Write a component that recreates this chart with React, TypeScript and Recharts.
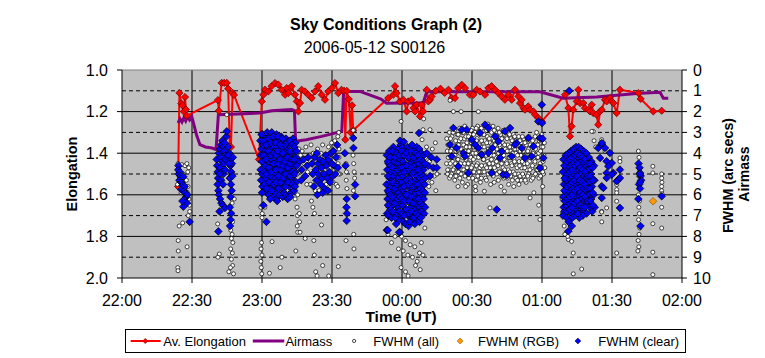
import React from "react";
import { CartesianGrid, ComposedChart, Line, Scatter, XAxis, YAxis } from "recharts";

type Pt = [number, number];

// minutes after 22:00 UT
const timeTicks = [0, 30, 60, 90, 120, 150, 180, 210, 240];
const timeLabels = ["22:00", "22:30", "23:00", "23:30", "00:00", "00:30", "01:00", "01:30", "02:00"];
const elongTicks = [1.0, 1.2, 1.4, 1.6, 1.8, 2.0];
const fwhmTicks = [0, 1, 2, 3, 4, 5, 6, 7, 8, 9, 10];
const solidRows = [1.2, 1.4, 1.6, 1.8];
const dashedRows = [1.1, 1.3, 1.5, 1.7, 1.9];
const gridCols = [30, 60, 90, 120, 150, 180, 210];

const elongation: Pt[] = [
  [24.0, 1.56], [24.6, 1.11], [25.4, 1.16], [25.9, 1.17], [26.5, 1.2], [27.0, 1.13], [27.4, 1.19], [27.8, 1.22],
  [41.1, 1.145], [41.5, 1.196], [42.7, 1.062], [43.8, 1.062], [44.9, 1.062], [45.5, 1.09], [46.2, 1.37], [46.7, 1.37],
  [47.4, 1.11], [48.0, 1.12], [58.7, 1.43],
  [59.9, 1.151], [60.6, 1.119], [61.3, 1.095], [62.7, 1.103], [64.1, 1.078], [65.6, 1.063], [67.0, 1.07], [68.4, 1.095],
  [69.9, 1.119], [70.6, 1.087], [71.3, 1.111], [72.7, 1.078], [74.1, 1.119], [74.9, 1.151], [75.6, 1.199], [76.3, 1.159],
  [77.0, 1.095], [78.4, 1.103], [79.8, 1.119], [81.3, 1.135], [82.7, 1.103], [84.1, 1.078], [85.6, 1.119], [87.0, 1.143],
  [88.4, 1.103], [89.9, 1.087], [91.3, 1.063], [92.7, 1.111], [94.1, 1.095],
  [95.2, 1.1], [95.7, 1.335], [96.3, 1.1], [97.2, 1.14], [98.0, 1.3], [98.6, 1.17], [99.1, 1.29],
  [114.1, 1.135], [116.3, 1.119], [117.0, 1.078], [117.7, 1.111], [119.1, 1.151], [120.6, 1.143], [122.0, 1.199],
  [122.7, 1.151], [124.1, 1.143], [124.9, 1.183], [125.6, 1.199], [126.3, 1.167], [127.7, 1.223], [128.4, 1.167],
  [129.1, 1.199], [130.6, 1.095], [131.3, 1.151], [132.0, 1.143], [132.7, 1.127], [134.5, 1.1], [136.5, 1.09], [138.3, 1.11],
  [139.9, 1.095], [141.3, 1.135], [142.7, 1.135], [144.1, 1.087], [145.6, 1.071], [147.0, 1.087], [149.1, 1.119],
  [150.6, 1.119], [152.0, 1.095], [153.4, 1.103], [155.6, 1.119], [157.0, 1.087], [158.4, 1.078], [159.9, 1.095],
  [161.3, 1.111], [162.7, 1.127], [164.1, 1.143], [165.6, 1.119], [167.0, 1.143], [168.4, 1.095], [169.9, 1.127],
  [170.6, 1.159], [171.3, 1.143], [172.0, 1.183], [172.7, 1.191], [174.1, 1.175], [174.9, 1.191], [176.3, 1.199],
  [177.0, 1.215], [178.4, 1.231], [179.9, 1.247],
  [189.9, 1.119], [191.3, 1.183], [192.0, 1.319], [192.7, 1.271], [193.4, 1.191], [194.9, 1.151], [195.6, 1.095],
  [196.3, 1.159], [197.7, 1.159], [198.4, 1.183], [199.9, 1.191], [200.6, 1.199], [201.3, 1.167], [202.0, 1.207],
  [203.4, 1.215], [204.1, 1.263], [204.9, 1.199], [205.6, 1.191], [207.0, 1.143], [207.7, 1.151], [209.1, 1.135],
  [209.9, 1.151], [210.6, 1.159], [212.0, 1.207], [213.4, 1.095],
  [221.3, 1.111], [222.3, 1.139], [227.7, 1.199], [231.3, 1.196],
];

const airmass: Pt[] = [
  [24.0, 2.55], [24.9, 2.35], [25.7, 2.5], [26.5, 2.3], [27.3, 2.45], [28.1, 2.25], [29.0, 2.4], [29.9, 2.23],
  [31.9, 3.1], [33.4, 3.59], [35.8, 3.7], [38.6, 3.75], [40.3, 3.83], [41.3, 2.15], [59.1, 2.07], [64.2, 1.96],
  [72.7, 1.9], [73.9, 1.95], [74.4, 3.43], [79.0, 3.35], [85.6, 3.19], [94.2, 2.95], [95.0, 1.03], [102.0, 1.03],
  [111.0, 1.4], [113.4, 1.6], [129.1, 1.57], [130.6, 1.05], [179.1, 1.05], [189.1, 1.36], [203.4, 1.3],
  [220.6, 1.13], [230.6, 1.07], [232.0, 1.36], [234.1, 1.36],
];

const fwhmAll: Pt[] = [
  // 22:24 - 22:30
  [24.0, 4.5], [25.6, 4.55], [27.0, 4.6], [27.8, 4.5], [28.6, 4.7], [26.2, 5.0], [27.6, 5.3], [28.3, 5.6], [28.0, 5.9],
  [28.7, 6.2], [28.9, 6.5], [29.0, 6.8], [28.4, 7.0], [26.0, 7.35], [24.5, 7.5], [24.1, 8.2], [24.1, 8.7], [27.9, 8.5],
  [23.9, 9.5], [24.0, 9.65], [25.3, 5.9], [23.8, 5.5], [28.2, 4.9],
  // 22:40 - 22:48
  [46.8, 6.0], [47.2, 6.4], [47.0, 6.9], [47.4, 7.3], [46.6, 7.7], [47.2, 7.9], [46.9, 8.1], [47.5, 8.3], [46.6, 8.6],
  [47.3, 8.8], [46.9, 9.1], [47.4, 9.4], [46.5, 9.5], [41.0, 7.4], [41.7, 8.85], [41.1, 9.0], [44.9, 2.15], [48.1, 6.2],
  [47.8, 9.8], [45.8, 9.7],
  // 23:00 - 23:16
  [59.8, 8.3], [59.6, 8.6], [60.0, 8.9], [59.5, 9.2], [59.7, 9.5], [59.9, 9.8], [60.1, 6.9], [64.3, 8.25], [63.2, 9.77],
  [67.8, 9.5], [68.5, 9.0], [74.0, 5.3], [74.6, 5.6], [75.0, 4.6], [75.2, 5.0], [75.3, 6.0], [75.0, 6.6], [75.2, 7.0],
  [75.1, 7.5], [75.3, 7.8], [74.2, 6.2], [61.2, 6.6], [59.5, 6.6], [60.0, 7.1], [74.5, 8.7],
  // 23:16 - 23:40
  [75.8, 3.8], [76.5, 4.1], [77.2, 3.9], [78.0, 4.5], [78.8, 3.7], [79.5, 5.0], [80.3, 4.1], [80.8, 5.5], [81.0, 3.6],
  [82.0, 4.0], [82.8, 5.8], [83.8, 3.8], [84.5, 5.8], [85.3, 4.0], [86.0, 3.6], [86.8, 4.2], [87.5, 5.5], [88.5, 3.7],
  [89.0, 5.8], [89.8, 3.5], [90.5, 5.4], [91.2, 3.4], [91.8, 5.5], [92.5, 3.2], [93.0, 4.2], [93.4, 5.0], [92.9, 3.0],
  [81.2, 6.3], [81.8, 6.6], [82.5, 6.9], [85.5, 7.45], [82.2, 8.2], [82.4, 8.9], [83.0, 9.7], [83.6, 9.9], [86.0, 9.4],
  [88.6, 9.9], [92.7, 9.45], [76.0, 6.9], [76.1, 7.3], [76.3, 7.8], [78.5, 8.1], [79.0, 4.4], [79.5, 4.9], [79.2, 5.5],
  [92.6, 4.5], [92.8, 5.0], [92.4, 5.6], [93.0, 3.8], [96.0, 4.5], [96.2, 4.9], [96.1, 5.3], [96.4, 5.7], [96.0, 8.2],
  [99.1, 2.9], [99.0, 4.1], [99.3, 4.5], [99.5, 4.9], [99.7, 5.2], [99.2, 5.8], [99.3, 7.9], [99.4, 8.6],
  // 23:54 - 00:15
  [114.0, 7.9], [115.5, 8.3], [117.0, 8.0], [118.5, 8.6], [119.8, 8.0], [120.5, 8.7], [121.5, 8.2], [122.5, 8.9],
  [123.5, 8.4], [124.5, 9.0], [125.5, 8.5], [126.5, 9.2], [127.5, 8.8], [128.3, 8.3], [129.0, 8.9], [119.6, 9.5],
  [121.5, 9.7], [122.6, 9.9], [125.8, 9.4], [127.8, 9.6], [113.2, 7.2], [129.8, 7.6],
  [119.6, 2.47], [129.3, 2.35], [129.0, 2.87], [132.0, 2.87], [128.6, 3.35], [130.5, 3.7],
  [130.0, 4.2], [131.0, 4.0], [131.8, 4.4], [132.8, 5.4], [133.8, 5.1], [134.5, 5.8], [131.5, 5.6], [130.5, 5.3],
  [133.0, 3.8], [134.3, 3.5], [135.0, 5.0],
  // 00:19 - 01:01
  [139.2, 3.3], [139.4, 3.9], [139.1, 4.5], [139.5, 5.0], [140.3, 3.0], [140.1, 3.6], [140.5, 4.2], [140.2, 4.8],
  [140.4, 5.2], [141.4, 3.2], [141.2, 3.8], [141.6, 4.4], [141.3, 5.0], [142.5, 2.9], [142.3, 3.5], [142.7, 4.1],
  [142.4, 4.7], [142.6, 5.3], [143.6, 3.1], [143.4, 3.7], [143.8, 4.3], [143.5, 4.9], [144.7, 2.8], [144.5, 3.4],
  [144.9, 4.0], [144.6, 4.6], [144.8, 5.2], [145.8, 3.0], [145.6, 3.6], [146.0, 4.2], [145.7, 4.8], [145.9, 5.4],
  [146.9, 2.7], [146.7, 3.3], [147.1, 3.9], [146.8, 4.5], [147.0, 5.1], [148.0, 2.9], [147.8, 3.5], [148.2, 4.1],
  [147.9, 4.7], [148.1, 5.5], [149.1, 3.1], [148.9, 3.7], [149.3, 4.3], [149.0, 4.9], [150.2, 2.8], [150.0, 3.4],
  [150.4, 4.0], [150.1, 4.6], [150.3, 5.2], [151.3, 3.0], [151.1, 3.6], [151.5, 4.2], [151.2, 4.8], [151.4, 5.6],
  [152.4, 2.7], [152.2, 3.3], [152.6, 3.9], [152.3, 4.5], [152.5, 5.1], [153.5, 2.9], [153.3, 3.5], [153.7, 4.1],
  [153.4, 4.7], [153.6, 5.4], [154.6, 3.1], [154.4, 3.7], [154.8, 4.3], [154.5, 4.9], [155.7, 2.8], [155.5, 3.4],
  [155.9, 4.0], [155.6, 4.6], [155.8, 5.2], [156.8, 2.6], [156.6, 3.2], [157.0, 3.8], [156.7, 4.4], [156.9, 5.0],
  [157.9, 2.9], [157.7, 3.5], [158.1, 4.1], [157.8, 4.7], [158.0, 5.5], [159.0, 2.7], [158.8, 3.3], [159.2, 3.9],
  [158.9, 4.5], [159.1, 5.1], [160.1, 3.0], [159.9, 3.6], [160.3, 4.2], [160.0, 4.8], [161.2, 2.8], [161.0, 3.4],
  [161.4, 4.0], [161.1, 4.6], [161.3, 5.3], [162.3, 3.1], [162.1, 3.7], [162.5, 4.3], [162.2, 4.9], [162.4, 5.6],
  [163.4, 2.9], [163.2, 3.5], [163.6, 4.1], [163.3, 4.7], [163.5, 5.2], [164.5, 3.2], [164.3, 3.8], [164.7, 4.4],
  [164.4, 5.0], [165.6, 3.0], [165.4, 3.6], [165.8, 4.2], [165.5, 4.8], [165.7, 5.5], [166.7, 3.3], [166.5, 3.9],
  [166.9, 4.5], [166.6, 5.1], [167.8, 3.1], [167.6, 3.7], [168.0, 4.3], [167.7, 4.9], [167.9, 5.6], [168.9, 3.4],
  [168.7, 4.0], [169.1, 4.6], [168.8, 5.2], [170.0, 3.2], [169.8, 3.8], [170.2, 4.4], [169.9, 5.0], [170.1, 5.5],
  [171.1, 3.5], [170.9, 4.1], [171.3, 4.7], [171.0, 5.3], [172.2, 3.3], [172.0, 3.9], [172.4, 4.5], [172.1, 5.1],
  [173.3, 3.6], [173.1, 4.2], [173.5, 4.8], [173.2, 5.4], [174.4, 3.2], [174.2, 3.8], [174.6, 4.4], [174.3, 5.0],
  [175.5, 3.5], [175.3, 4.1], [175.7, 4.7], [175.4, 5.3], [176.6, 3.3], [176.4, 3.9], [176.8, 4.5], [176.5, 5.1],
  [177.7, 3.0], [177.5, 3.6], [177.9, 4.2], [177.6, 4.8], [178.8, 3.4], [178.6, 4.0], [179.0, 4.6], [178.7, 5.2],
  [179.9, 3.1], [179.7, 3.7], [180.1, 4.3], [179.8, 4.9], [181.0, 3.5], [180.8, 4.1], [181.2, 4.7], [180.6, 5.0],
  [180.3, 5.6], [140.6, 1.46], [142.0, 2.0], [145.3, 2.0], [152.7, 2.0], [147.3, 5.6], [151.6, 5.8], [155.3, 5.83],
  [157.7, 6.63], [163.9, 5.83], [174.9, 6.15], [179.1, 7.19], [178.6, 6.5], [176.5, 5.9], [144.0, 5.6],
  // 01:10 - 01:22
  [202.0, 2.95], [202.3, 3.4], [203.0, 3.7], [205.6, 3.35], [207.0, 3.9], [206.3, 3.5], [213.4, 4.23], [212.0, 5.75],
  [205.6, 6.8], [205.6, 7.3], [191.3, 8.15], [192.7, 8.24], [193.4, 8.8], [197.0, 9.57], [193.4, 9.8], [201.3, 2.95],
  [212.0, 8.8], [189.5, 7.5], [190.5, 7.8], [191.0, 8.0], [189.8, 7.9], [213.4, 4.4], [212.0, 5.51], [212.0, 5.9],
  [212.0, 6.31], [207.7, 6.63], [205.6, 6.83], [188.6, 6.2], [188.8, 6.9],
  // 01:33 - 01:40
  [221.3, 3.9], [221.6, 4.2], [221.4, 4.5], [221.8, 4.8], [221.5, 5.1], [221.9, 5.4], [221.6, 5.7], [221.3, 6.0],
  [221.8, 6.3], [221.5, 6.6], [221.7, 6.9], [221.4, 7.2], [221.9, 7.6], [221.6, 7.9], [221.2, 8.2], [221.5, 8.5],
  [221.1, 8.7], [227.5, 4.63], [227.5, 4.95], [231.3, 5.0], [231.3, 5.2], [231.4, 5.4], [231.3, 5.6], [231.3, 5.8],
  [231.4, 5.95], [231.3, 6.6], [231.3, 7.6], [227.5, 7.39], [227.5, 8.76], [227.5, 9.84],
];

// second pass of the 00:19 - 01:01 cloud (points between the first pass)
const fwhmAllCloud: Pt[] = [
  [139.7, 3.6], [139.8, 4.2], [139.6, 4.8], [140.8, 3.3], [140.9, 3.9], [140.7, 4.5], [140.9, 5.1], [141.9, 3.0],
  [141.8, 3.6], [142.0, 4.2], [141.9, 4.8], [143.0, 3.4], [143.1, 3.9], [142.9, 4.5], [143.1, 5.1], [144.1, 3.1],
  [144.2, 3.6], [144.0, 4.3], [144.2, 4.9], [145.2, 3.3], [145.3, 3.8], [145.1, 4.5], [145.3, 5.0], [146.3, 3.0],
  [146.4, 3.6], [146.2, 4.1], [146.4, 4.8], [147.4, 3.2], [147.5, 3.7], [147.3, 4.3], [147.5, 4.9], [148.5, 3.2],
  [148.6, 3.9], [148.4, 4.5], [148.6, 5.2], [149.6, 2.9], [149.7, 3.5], [149.5, 4.2], [149.7, 4.7], [150.7, 3.1],
  [150.8, 3.7], [150.6, 4.3], [150.8, 4.9], [151.8, 2.8], [151.9, 3.4], [151.7, 4.0], [151.9, 4.6], [151.8, 5.3],
  [152.9, 3.0], [153.0, 3.6], [152.8, 4.2], [153.0, 4.9], [154.0, 2.8], [154.1, 3.4], [153.9, 4.0], [154.1, 4.6],
  [154.0, 5.2], [155.1, 3.1], [155.2, 3.7], [155.0, 4.3], [155.2, 4.9], [156.2, 2.9], [156.3, 3.5], [156.1, 4.1],
  [156.3, 4.7], [156.2, 5.3], [157.3, 2.7], [157.4, 3.3], [157.2, 3.9], [157.4, 4.5], [158.4, 3.0], [158.5, 3.6],
  [158.3, 4.3], [158.5, 4.9], [159.5, 2.9], [159.6, 3.4], [159.4, 4.1], [159.6, 4.7], [159.5, 5.4], [160.6, 3.2],
  [160.7, 3.8], [160.5, 4.4], [160.7, 5.0], [161.7, 3.0], [161.8, 3.6], [161.6, 4.2], [161.8, 4.9], [162.8, 3.3],
  [162.9, 3.9], [162.7, 4.5], [162.9, 5.1], [163.9, 3.1], [164.0, 3.6], [163.8, 4.3], [164.0, 4.8], [165.0, 3.3],
  [165.1, 3.9], [164.9, 4.5], [165.1, 5.2], [166.1, 3.1], [166.2, 3.7], [166.0, 4.2], [166.2, 4.9], [167.2, 3.4],
  [167.3, 4.0], [167.1, 4.6], [167.3, 5.3], [168.3, 3.2], [168.4, 3.8], [168.2, 4.4], [168.4, 5.0], [169.4, 3.5],
  [169.5, 4.1], [169.3, 4.7], [169.5, 5.3], [170.5, 3.4], [170.6, 3.9], [170.4, 4.6], [170.6, 5.1], [171.6, 3.2],
  [171.7, 3.8], [171.5, 4.4], [171.7, 5.0], [172.7, 3.5], [172.8, 4.1], [172.6, 4.7], [172.8, 5.3], [173.8, 3.3],
  [173.9, 3.9], [173.7, 4.5], [173.9, 5.1], [174.9, 3.6], [175.0, 4.2], [174.8, 4.8], [176.0, 3.4], [176.1, 4.0],
  [175.9, 4.6], [176.1, 5.2], [177.1, 3.2], [177.2, 3.8], [177.0, 4.4], [177.2, 5.0], [178.2, 3.6], [178.3, 4.2],
  [178.1, 4.8], [179.3, 3.3], [179.4, 3.9], [179.2, 4.5], [179.4, 5.1], [180.4, 3.7], [180.5, 4.4], [180.3, 4.9],
];

const fwhmRgb: Pt[] = [[227.6, 6.31]];

const fwhmClear: Pt[] = [
  // 22:24 - 22:30
  [24.2, 4.6], [24.1, 4.8], [24.3, 5.0], [24.8, 4.9], [25.1, 5.1], [24.6, 5.3], [26.3, 5.13], [25.5, 5.4], [26.0, 5.55],
  [25.4, 5.75], [26.6, 5.8], [27.0, 5.9], [27.5, 6.1], [26.6, 6.25], [27.8, 6.4], [26.3, 6.57], [25.9, 6.3], [29.0, 7.3],
  [28.0, 6.0], [26.9, 5.6],
  // 22:40 - 22:48
  [40.6, 4.3], [40.8, 4.6], [41.0, 4.9], [41.2, 5.2], [41.0, 5.5], [41.3, 5.8], [41.6, 6.0], [42.0, 6.2], [42.6, 6.4],
  [43.2, 6.5], [41.5, 4.0], [42.0, 3.8], [42.5, 3.6], [43.0, 3.4], [43.5, 3.7], [44.0, 3.5], [43.8, 3.9], [44.3, 4.1],
  [42.3, 4.2], [43.0, 4.4], [43.6, 4.5], [44.5, 4.3], [42.0, 4.7], [42.8, 4.9], [43.5, 5.0], [44.2, 4.8], [42.5, 5.3],
  [43.3, 5.5], [41.8, 5.0], [44.7, 3.2], [44.9, 2.95], [41.3, 7.76], [44.1, 6.63], [41.8, 6.8], [45.5, 3.7], [46.0, 4.0],
  [46.3, 4.3], [46.5, 4.6], [46.8, 4.9], [47.1, 4.5], [46.2, 5.2], [46.7, 5.5], [47.0, 5.8], [46.5, 6.1], [46.2, 6.6],
  [46.8, 6.9], [46.5, 7.2], [46.3, 7.5], [45.8, 4.5], [47.3, 5.1], [45.6, 4.1], [47.5, 4.2],
  // 23:00 - 23:15
  [59.3, 3.4], [59.5, 4.1], [59.4, 4.8], [59.6, 5.3], [59.8, 3.8], [60.3, 3.1], [60.5, 3.6], [60.4, 4.4], [60.7, 5.0],
  [60.2, 5.6], [60.6, 6.5], [61.2, 3.3], [61.5, 3.9], [61.3, 4.6], [61.6, 5.2], [61.4, 5.8], [61.9, 7.3], [62.2, 3.0],
  [62.4, 3.5], [62.6, 4.2], [62.3, 4.9], [62.5, 5.5], [62.8, 6.0], [63.2, 3.2], [63.5, 3.8], [63.3, 4.5], [63.6, 5.1],
  [63.8, 5.7], [64.2, 3.0], [64.5, 3.6], [64.3, 4.3], [64.6, 4.8], [64.4, 5.4], [64.9, 6.1], [65.3, 3.3], [65.5, 3.9],
  [65.2, 4.6], [65.7, 5.2], [65.5, 5.9], [66.2, 3.1], [66.4, 3.7], [66.6, 4.4], [66.3, 5.0], [66.8, 5.6], [66.1, 6.2],
  [67.3, 3.4], [67.5, 4.0], [67.2, 4.7], [67.7, 5.3], [67.4, 6.0], [68.2, 3.2], [68.5, 3.8], [68.3, 4.5], [68.7, 5.0],
  [68.4, 5.7], [68.9, 6.1], [69.3, 3.5], [69.6, 4.2], [69.2, 4.8], [69.8, 5.5], [69.5, 5.9], [70.3, 3.3], [70.5, 3.9],
  [70.4, 4.6], [70.7, 5.2], [70.2, 6.0], [71.3, 3.6], [71.5, 4.3], [71.2, 4.9], [71.7, 5.6], [71.6, 6.0], [72.3, 3.4],
  [72.6, 4.0], [72.4, 4.7], [72.8, 5.3], [72.5, 5.9], [73.3, 3.3], [73.5, 3.9], [73.6, 4.5], [73.4, 5.1], [73.8, 5.8],
  [74.3, 3.5], [74.5, 4.2], [74.2, 4.9], [74.7, 5.4], [63.5, 6.2], [66.5, 6.3], [71.0, 6.2], [72.0, 6.1],
  // 23:16 - 23:40
  [76.2, 4.4], [77.0, 4.8], [77.8, 4.3], [78.5, 5.1], [79.3, 4.6], [79.8, 4.2], [76.8, 5.3], [81.5, 4.5], [81.8, 5.0],
  [82.2, 5.6], [82.5, 4.2], [83.0, 4.8], [83.3, 5.3], [83.7, 6.0], [84.0, 4.5], [84.3, 5.0], [84.8, 4.3], [85.1, 5.5],
  [85.5, 4.7], [85.8, 5.2], [86.2, 4.4], [86.5, 5.0], [86.9, 5.7], [87.3, 4.1], [87.6, 4.6], [88.0, 5.2], [88.4, 4.3],
  [88.8, 4.9], [89.2, 5.4], [89.5, 4.0], [89.9, 4.5], [90.3, 5.1], [90.6, 3.9], [91.0, 4.6], [91.4, 5.0], [91.8, 4.2],
  [92.2, 3.6], [92.5, 4.7], [83.5, 4.0], [86.0, 5.9], [88.2, 5.8], [95.5, 4.0], [95.8, 4.6], [96.3, 6.2], [96.2, 6.6],
  [96.4, 6.9], [96.3, 7.25], [99.1, 3.27], [99.2, 3.75], [99.9, 5.51], [99.9, 6.07],
  // 23:53 - 00:15
  [113.5, 4.1], [113.7, 4.8], [113.4, 5.5], [113.8, 6.2], [113.6, 6.9], [113.5, 7.7], [114.5, 3.9], [114.3, 4.5],
  [114.7, 5.2], [114.4, 5.9], [114.8, 6.6], [114.2, 7.0], [115.4, 4.2], [115.6, 4.9], [115.3, 5.6], [115.7, 6.3],
  [115.5, 7.1], [116.3, 3.7], [116.6, 4.4], [116.4, 5.1], [116.7, 5.8], [116.2, 6.5], [116.5, 6.9], [117.4, 4.0],
  [117.2, 4.7], [117.6, 5.4], [117.3, 6.1], [117.7, 6.8], [117.5, 7.4], [118.3, 3.8], [118.5, 4.5], [118.4, 5.2],
  [118.7, 5.9], [118.2, 6.6], [118.6, 7.2], [119.4, 3.6], [119.3, 4.3], [119.6, 5.0], [119.5, 5.7], [119.2, 6.4],
  [119.7, 7.0], [119.1, 7.8], [120.3, 3.7], [120.5, 4.4], [120.4, 5.1], [120.7, 5.8], [120.3, 6.5], [120.6, 7.3],
  [121.4, 3.9], [121.2, 4.6], [121.6, 5.3], [121.3, 6.0], [121.7, 6.7], [121.5, 7.4], [122.3, 3.7], [122.5, 4.2],
  [122.4, 4.9], [122.7, 5.6], [122.2, 6.3], [122.6, 7.0], [122.8, 7.5], [123.4, 3.8], [123.6, 4.5], [123.2, 5.2],
  [123.5, 5.9], [123.7, 6.6], [123.3, 7.3], [124.3, 3.6], [124.6, 4.3], [124.4, 5.0], [124.7, 5.7], [124.2, 6.4],
  [124.5, 7.1], [125.4, 3.9], [125.2, 4.6], [125.6, 5.3], [125.3, 6.0], [125.7, 6.7], [125.5, 7.4], [126.3, 3.7],
  [126.5, 4.4], [126.4, 5.1], [126.7, 5.8], [126.2, 6.5], [126.6, 7.2], [127.4, 3.8], [127.2, 4.5], [127.6, 5.2],
  [127.3, 5.9], [127.7, 6.6], [127.5, 7.3], [128.3, 4.0], [128.5, 4.7], [128.4, 5.4], [128.7, 6.1], [128.2, 6.8],
  [129.4, 4.1], [129.2, 4.8], [129.6, 5.5], [129.3, 6.2], [129.5, 6.9], [119.1, 3.4], [120.8, 3.45], [127.3, 3.03],
  [113.9, 7.7], [118.8, 7.8], [130.6, 4.0], [131.3, 4.6], [132.0, 5.1], [133.4, 4.7], [134.9, 4.3], [134.9, 4.7],
  [132.5, 4.2],
  // 00:19 - 01:01
  [142.0, 2.79], [145.6, 2.87], [147.7, 2.87], [140.6, 3.59], [143.4, 3.75], [146.3, 3.99], [149.9, 3.35], [152.7, 3.75],
  [155.6, 2.63], [157.0, 2.79], [159.9, 3.19], [161.3, 3.43], [164.1, 2.95], [166.3, 2.79], [169.1, 3.51], [171.3, 3.75],
  [174.1, 3.27], [176.3, 3.67], [179.9, 1.67], [178.4, 2.47], [179.1, 3.27], [180.6, 4.23], [179.1, 4.71], [144.1, 4.63],
  [148.4, 4.95], [158.4, 4.95], [163.4, 5.03], [164.9, 5.06], [160.6, 6.71], [141.3, 4.15], [147.0, 4.15], [151.3, 3.59],
  [154.1, 4.07], [157.0, 3.99], [162.0, 4.23], [167.0, 4.15], [168.4, 3.59], [172.7, 4.23], [175.6, 4.15], [162.7, 3.91],
  [153.4, 3.03], [158.7, 3.75], [180.0, 2.55], [180.2, 3.3], [191.7, 1.0],
  // 01:09 - 01:22
  [189.2, 4.3], [189.0, 4.9], [189.4, 5.5], [189.1, 6.1], [189.3, 6.6], [189.0, 7.0], [190.2, 4.1], [190.4, 4.7],
  [190.1, 5.3], [190.5, 5.9], [190.3, 6.5], [190.6, 7.1], [191.3, 4.0], [191.1, 4.6], [191.5, 5.2], [191.2, 5.8],
  [191.6, 6.4], [191.4, 7.3], [191.3, 7.75], [192.4, 3.9], [192.2, 4.5], [192.6, 5.1], [192.3, 5.7], [192.7, 6.3],
  [192.5, 6.9], [192.8, 7.5], [193.5, 3.8], [193.3, 4.4], [193.7, 5.0], [193.4, 5.6], [193.8, 6.2], [193.6, 6.8],
  [194.6, 3.7], [194.4, 4.3], [194.8, 4.9], [194.5, 5.5], [194.9, 6.1], [194.7, 6.7], [195.7, 3.7], [195.5, 4.2],
  [195.9, 4.8], [195.6, 5.4], [196.0, 6.0], [195.8, 6.6], [196.8, 3.8], [196.6, 4.4], [197.0, 5.0], [196.7, 5.6],
  [197.1, 6.2], [196.9, 6.7], [197.9, 3.9], [197.7, 4.5], [198.1, 5.1], [197.8, 5.7], [198.2, 6.3], [198.0, 6.8],
  [199.0, 4.0], [198.8, 4.6], [199.2, 5.2], [198.9, 5.8], [199.3, 6.4], [199.1, 6.9], [200.1, 4.2], [199.9, 4.8],
  [200.3, 5.4], [200.0, 6.0], [200.4, 6.6], [201.2, 4.4], [201.0, 5.0], [201.4, 5.6], [201.1, 6.2], [201.5, 6.8],
  [202.3, 4.6], [202.5, 5.3], [202.2, 6.0], [202.6, 6.6],
  [204.1, 3.75], [205.6, 3.59], [207.0, 3.75], [204.9, 4.23], [209.1, 3.99], [209.9, 4.47], [207.7, 4.95], [205.6, 5.59],
  [205.6, 6.15], [213.4, 4.79], [212.7, 5.27], [212.0, 5.35], [213.4, 6.63], [207.7, 4.39], [210.6, 4.95], [205.6, 3.51],
  [208.4, 4.63], [207.7, 5.19], [209.9, 5.03], [213.4, 5.19], [206.3, 5.67],
  // 01:34 - 01:40
  [221.4, 4.5], [221.8, 4.7], [222.0, 4.95], [222.3, 5.1], [222.5, 5.3], [221.6, 5.5], [222.0, 5.7], [221.3, 6.2],
  [222.2, 7.5], [221.9, 5.0], [222.1, 5.4], [231.3, 6.07],
];

// second pass of the three dense clear-filter blocks
const fwhmClearDense: Pt[] = [
  // 23:00 - 23:15
  [59.8, 3.1], [59.9, 4.4], [60.0, 5.0], [60.0, 5.9], [60.9, 3.4], [60.8, 4.1], [61.0, 4.9], [61.1, 5.5], [61.8, 3.6],
  [61.7, 4.3], [61.9, 5.0], [62.0, 5.7], [62.9, 3.3], [62.8, 3.9], [63.0, 4.7], [63.1, 5.4], [63.8, 3.5], [63.9, 4.1],
  [64.0, 4.9], [64.1, 5.8], [64.8, 3.2], [65.0, 4.0], [64.9, 4.5], [65.1, 5.5], [65.8, 3.5], [66.0, 4.1], [65.9, 4.8],
  [66.0, 5.4], [66.9, 3.2], [66.8, 3.9], [67.0, 4.5], [67.1, 5.1], [67.0, 5.7], [67.9, 3.6], [67.8, 4.3], [68.0, 4.8],
  [68.1, 5.4], [68.8, 3.3], [68.9, 4.0], [69.0, 4.6], [69.1, 5.2], [69.9, 3.6], [69.8, 4.4], [70.0, 5.0], [70.1, 5.6],
  [70.8, 3.5], [70.9, 4.2], [71.0, 4.7], [71.1, 5.4], [71.9, 3.4], [71.8, 3.9], [72.0, 4.5], [72.1, 5.1], [72.9, 3.6],
  [72.8, 4.3], [73.0, 4.9], [73.1, 5.5], [73.9, 3.7], [73.8, 4.3], [74.0, 5.0], [74.1, 5.6], [74.8, 3.9], [74.9, 4.6],
  // 23:54 - 00:13
  [113.9, 4.4], [114.0, 5.1], [113.9, 5.8], [114.0, 6.5], [114.9, 4.2], [115.0, 4.6], [115.1, 5.4], [115.0, 6.0],
  [115.1, 6.7], [115.9, 3.9], [116.0, 4.7], [116.1, 5.4], [115.9, 6.1], [116.0, 6.8], [116.9, 4.2], [117.0, 4.9],
  [116.9, 5.7], [117.0, 6.4], [117.1, 7.1], [117.9, 4.0], [118.0, 4.8], [117.9, 5.5], [118.0, 6.2], [118.1, 6.9],
  [118.9, 4.1], [119.0, 4.7], [118.9, 5.4], [119.0, 6.1], [118.9, 6.8], [119.9, 3.9], [120.0, 4.7], [119.9, 5.4],
  [120.0, 6.2], [120.1, 6.9], [120.9, 4.1], [121.0, 4.9], [120.9, 5.6], [121.0, 6.3], [120.9, 7.0], [121.9, 4.0],
  [122.0, 4.6], [121.9, 5.3], [122.0, 6.0], [121.9, 6.7], [122.9, 4.2], [123.0, 4.8], [122.9, 5.5], [123.0, 6.3],
  [123.1, 6.9], [123.9, 3.9], [124.0, 4.7], [123.9, 5.4], [124.0, 6.1], [124.1, 6.8], [124.9, 4.2], [125.0, 4.9],
  [124.9, 5.6], [125.0, 6.4], [125.1, 7.1], [125.9, 4.0], [126.0, 4.8], [125.9, 5.5], [126.0, 6.2], [126.1, 6.9],
  [126.9, 4.1], [127.0, 4.8], [126.9, 5.5], [127.0, 6.2], [127.1, 7.0], [127.9, 4.3], [128.0, 5.0], [127.9, 5.7],
  [128.0, 6.4], [128.1, 7.1], [128.9, 4.4], [129.0, 5.1], [128.9, 5.8], [129.0, 6.5], [129.8, 4.5], [129.9, 5.2],
  [129.8, 5.9], [129.9, 6.6],
  // 01:09 - 01:22
  [189.6, 4.6], [189.7, 5.2], [189.6, 5.8], [189.7, 6.3], [189.6, 6.8], [190.7, 4.4], [190.8, 5.0], [190.7, 5.6],
  [190.8, 6.2], [190.7, 6.8], [191.8, 4.3], [191.9, 4.9], [191.8, 5.5], [191.9, 6.1], [191.8, 6.7], [192.9, 4.2],
  [193.0, 4.8], [192.9, 5.4], [193.0, 6.0], [192.9, 6.6], [193.0, 7.1], [194.0, 4.1], [194.1, 4.6], [194.0, 5.3],
  [194.1, 5.8], [194.0, 6.4], [194.1, 7.0], [195.1, 4.0], [195.2, 4.5], [195.1, 5.1], [195.2, 5.7], [195.1, 6.3],
  [196.2, 4.1], [196.3, 4.7], [196.2, 5.3], [196.3, 5.9], [196.2, 6.5], [197.3, 4.2], [197.4, 4.8], [197.3, 5.4],
  [197.4, 6.0], [197.3, 6.6], [198.4, 4.3], [198.5, 4.9], [198.4, 5.5], [198.5, 6.1], [198.4, 6.6], [199.5, 4.5],
  [199.6, 5.1], [199.5, 5.7], [199.6, 6.3], [200.6, 4.5], [200.7, 5.1], [200.6, 5.7], [200.7, 6.3], [201.7, 4.7],
  [201.8, 5.3], [201.7, 5.9], [201.8, 6.5], [197.5, 7.0], [196.0, 7.1], [195.3, 6.9],
];

const FONT = '"Liberation Sans", Arial, sans-serif';

const toElong = (d: Pt[]) => d.map(([t, e]) => ({ t, e }));
const toRight = (d: Pt[]) => d.map(([t, f]) => ({ t, f }));

const diamond = (cx: number, cy: number, r: number) =>
  `${cx},${cy - r} ${cx + r},${cy} ${cx},${cy + r} ${cx - r},${cy}`;

const ElongDot = (p: any) => {
  if (p.cx == null || p.cy == null) return <g key={`ed-${p.index}`} />;
  return (
    <polygon key={`ed-${p.index}`} points={diamond(p.cx, p.cy, 3.6)} fill="#ff0000" stroke="#7a0000" strokeWidth={0.8} />
  );
};

const AllShape = (p: any) => (
  <circle cx={p.cx} cy={p.cy} r={2} fill="#ffffff" stroke="#000000" strokeWidth={0.7} />
);
const RgbShape = (p: any) => (
  <polygon points={diamond(p.cx, p.cy, 3.8)} fill="#ff9900" stroke="#7a4a00" strokeWidth={0.6} />
);
const ClearShape = (p: any) => (
  <polygon points={diamond(p.cx, p.cy, 3.8)} fill="#0000ff" stroke="#000000" strokeWidth={0.75} />
);

const tickStyle = { fill: "#000", fontSize: 16, fontFamily: FONT };
const titleStyle = { fontFamily: FONT, fill: "#000" };

const App = () => {
  return (
    <div style={{ position: "absolute", left: 0, top: 0, width: 765, height: 358, background: "#fff" }}>
      <ComposedChart width={765} height={358} margin={{ top: 70, right: 0, bottom: 0, left: 0 }}>
        <CartesianGrid
          yAxisId="left"
          fill="#c0c0c0"
          fillOpacity={1}
          vertical={false}
          horizontalValues={dashedRows}
          stroke="#000"
          strokeDasharray="4 3"
        />
        <CartesianGrid yAxisId="left" horizontalValues={solidRows} verticalValues={gridCols} stroke="#000" />
        <CartesianGrid yAxisId="left" horizontalValues={[1.0]} vertical={false} stroke="#808080" />
        <XAxis
          dataKey="t"
          type="number"
          domain={[0, 240]}
          ticks={timeTicks}
          interval={0}
          allowDataOverflow
          tickFormatter={(v: number) => timeLabels[timeTicks.indexOf(v)]}
          height={80}
          tickSize={5}
          tickMargin={12}
          stroke="#000"
          tick={tickStyle}
        />
        <YAxis
          yAxisId="left"
          type="number"
          domain={[1, 2]}
          reversed
          ticks={elongTicks}
          interval={0}
          allowDataOverflow
          tickFormatter={(v: number) => v.toFixed(1)}
          width={122}
          tickSize={5}
          tickMargin={9}
          stroke="#000"
          tick={tickStyle}
        />
        <YAxis
          yAxisId="right"
          orientation="right"
          type="number"
          domain={[0, 10]}
          reversed
          ticks={fwhmTicks}
          interval={0}
          allowDataOverflow
          width={83}
          tickSize={5}
          tickMargin={6}
          stroke="#000"
          tick={{ ...tickStyle, textAnchor: "start" }}
        />
        <Line
          yAxisId="left"
          data={toElong(elongation)}
          dataKey="e"
          type="linear"
          stroke="#ff0000"
          strokeWidth={2}
          dot={ElongDot}
          activeDot={false}
          isAnimationActive={false}
        />
        <Line
          yAxisId="right"
          data={toRight(airmass)}
          dataKey="f"
          type="linear"
          stroke="#800080"
          strokeWidth={3}
          dot={false}
          activeDot={false}
          isAnimationActive={false}
        />
        <Scatter
          yAxisId="right"
          data={toRight([...fwhmAll, ...fwhmAllCloud])}
          dataKey="f"
          shape={AllShape}
          isAnimationActive={false}
        />
        <Scatter yAxisId="right" data={toRight(fwhmRgb)} dataKey="f" shape={RgbShape} isAnimationActive={false} />
        <Scatter
          yAxisId="right"
          data={toRight([...fwhmClear, ...fwhmClearDense])}
          dataKey="f"
          shape={ClearShape}
          isAnimationActive={false}
        />
      </ComposedChart>

      <svg width={765} height={358} style={{ position: "absolute", left: 0, top: 0, pointerEvents: "none" }}>
        <text x={386} y={30} textAnchor="middle" fontSize={16} fontWeight="bold" {...titleStyle}>
          Sky Conditions Graph (2)
        </text>
        <text x={374.5} y={53} textAnchor="middle" fontSize={16} {...titleStyle}>
          2006-05-12 S00126
        </text>
        <text
          x={71.5}
          y={174}
          transform="rotate(-90 71.5 174)"
          textAnchor="middle"
          dominantBaseline="central"
          fontSize={14.5}
          fontWeight="bold"
          {...titleStyle}
        >
          Elongation
        </text>
        <text
          x={727.5}
          y={175.5}
          transform="rotate(-90 727.5 175.5)"
          textAnchor="middle"
          dominantBaseline="central"
          fontSize={14.3}
          fontWeight="bold"
          {...titleStyle}
        >
          FWHM (arc secs)
        </text>
        <text
          x={744}
          y={174}
          transform="rotate(-90 744 174)"
          textAnchor="middle"
          dominantBaseline="central"
          fontSize={14}
          fontWeight="bold"
          {...titleStyle}
        >
          Airmass
        </text>
        <text x={401} y={322} textAnchor="middle" fontSize={15.5} fontWeight="bold" {...titleStyle}>
          Time (UT)
        </text>

        <g>
          <rect x={125.5} y={329.5} width={560} height={23} fill="#fff" stroke="#000" strokeWidth={1} />
          <line x1={130.7} y1={341} x2={160.7} y2={341} stroke="#ff0000" strokeWidth={2} />
          <polygon points={diamond(145.3, 341, 2.6)} fill="#ff0000" stroke="#7a0000" strokeWidth={0.6} />
          <text x={163.3} y={345.7} fontSize={13} {...titleStyle}>Av. Elongation</text>
          <line x1={252.8} y1={341} x2={284.3} y2={341} stroke="#800080" strokeWidth={3} />
          <text x={285.4} y={345.7} fontSize={13} {...titleStyle}>Airmass</text>
          <circle cx={354.1} cy={341} r={1.6} fill="#fff" stroke="#000" strokeWidth={0.7} />
          <text x={373.3} y={345.7} fontSize={13} {...titleStyle}>FWHM (all)</text>
          <polygon points={diamond(460.1, 341, 3)} fill="#ff9900" stroke="#7a4a00" strokeWidth={0.5} />
          <text x={478.1} y={345.7} fontSize={13} {...titleStyle}>FWHM (RGB)</text>
          <polygon points={diamond(577.9, 341, 3)} fill="#0000ff" stroke="#000" strokeWidth={0.5} />
          <text x={598.3} y={345.7} fontSize={13} {...titleStyle}>FWHM (clear)</text>
        </g>
      </svg>
    </div>
  );
};

export default App;
